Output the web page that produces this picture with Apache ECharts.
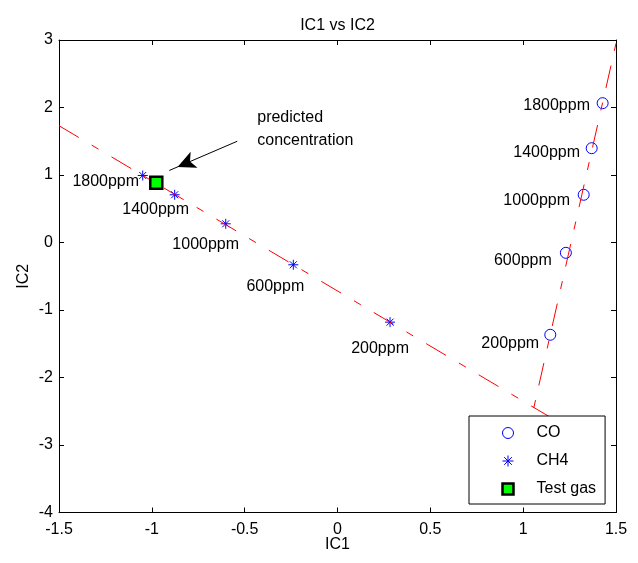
<!DOCTYPE html>
<html>
<head>
<meta charset="utf-8">
<script src="https://cdn.jsdelivr.net/npm/echarts@6/dist/echarts.min.js"></script>
<style>
  html, body { margin: 0; padding: 0; background: #fff; }
  #chart { width: 638px; height: 563px; }
</style>
</head>
<body>
<div id="chart"></div>
<script>
// values, ordered 200ppm -> 1800ppm
const ppmLabels = ["200ppm", "600ppm", "1000ppm", "1400ppm", "1800ppm"];
const coIC1 = [1.146, 1.230, 1.326, 1.369, 1.428];
const coIC2 = [-1.367, -0.153, 0.707, 1.397, 2.064];
const ch4IC1 = [0.283, -0.238, -0.602, -0.877, -1.049];
const ch4IC2 = [-1.18, -0.33, 0.277, 0.707, 0.993];
const testGas = [-0.976, 0.884];

// fitted (dash-dot) lines, end points
const coFitLine = [[1.012, -3.0], [1.5, 2.95]];
const ch4FitLine = [[-1.5, 1.73], [1.3, -2.84]];

// annotation
const noteText = "predicted\nconcentration";
const notePos = [-0.435, 1.684];
const arrowFrom = [-0.540, 1.50];
const arrowTo = [-0.906, 1.067];

// axes
const xRange = [-1.5, 1.5];
const xStep = 0.5;
const yRange = [-4, 3];
const yStep = 1;

// label nudges in px (style only)
const coLabelOffsets = [[-40, 9], [-43, 8], [-47, 6], [-45, 4], [-46, 2]];
const ch4LabelOffsets = [[-10, 26], [-18, 22], [-20, 21], [-19, 15], [-37, 6]];

const FONT = "'Liberation Sans', Arial, Helvetica, sans-serif";
const BLUE = "#0000ff";
const RED = "#ff0000";
const starPath = "path://M5,0L5,10M0,5L10,5M1.5,1.5L8.5,8.5M1.5,8.5L8.5,1.5";
const dashDot = [23, 15, 8, 15];

const pointsWithLabels = (xs, ys, offsets) => xs.map((x, i) => ({
  value: [x, ys[i]],
  name: ppmLabels[i],
  label: { offset: offsets[i] }
}));

const ppmLabel = {
  show: true,
  position: "inside",
  formatter: (p) => p.name,
  color: "#000",
  fontSize: 16,
  fontFamily: FONT
};

const baseAxis = (min, max, interval) => ({
  type: "value",
  min,
  max,
  interval,
  splitLine: { show: false },
  axisLine: { show: true, onZero: false, lineStyle: { color: "#000", width: 1 } },
  axisTick: { show: true, inside: true, length: 5, lineStyle: { color: "#000" } }
});

const option = {
  animation: false,
  backgroundColor: "#fff",
  title: {
    text: "IC1 vs IC2",
    left: 337.5,
    textAlign: "center",
    top: 18,
    padding: 0,
    textStyle: { fontFamily: FONT, fontSize: 16, fontWeight: "normal", color: "#000" }
  },
  grid: { left: 59, right: 22, top: 40, bottom: 50.5, containLabel: false },
  xAxis: [
    {
      ...baseAxis(xRange[0], xRange[1], xStep),
      position: "bottom",
      name: "IC1",
      nameLocation: "middle",
      nameGap: 24,
      nameMoveOverlap: false,
      nameTextStyle: { fontFamily: FONT, fontSize: 16, color: "#000" },
      axisLabel: { margin: 9, fontFamily: FONT, fontSize: 16, color: "#000" }
    },
    {
      ...baseAxis(xRange[0], xRange[1], xStep),
      position: "top",
      axisLabel: { show: false }
    }
  ],
  yAxis: [
    {
      ...baseAxis(yRange[0], yRange[1], yStep),
      position: "left",
      name: "IC2",
      nameLocation: "middle",
      nameGap: 27,
      nameMoveOverlap: false,
      nameTextStyle: { fontFamily: FONT, fontSize: 16, color: "#000" },
      axisLabel: { margin: 6, fontFamily: FONT, fontSize: 16, color: "#000" }
    },
    {
      ...baseAxis(yRange[0], yRange[1], yStep),
      position: "right",
      axisLabel: { show: false }
    }
  ],
  legend: {
    orient: "vertical",
    left: 469,
    top: 416,
    padding: [9, 9, 7, 31],
    itemGap: 12,
    itemWidth: 11,
    itemHeight: 11,
    borderColor: "#000",
    borderWidth: 1,
    borderRadius: 0,
    backgroundColor: "#fff",
    selectedMode: false,
    textStyle: { fontFamily: FONT, fontSize: 16, color: "#000", padding: [0, 0, 0, 18] },
    data: [
      { name: "CO", icon: "circle", itemStyle: { color: "#fff", borderColor: BLUE, borderWidth: 1 } },
      { name: "CH4", icon: starPath, itemStyle: { color: "none", borderColor: BLUE, borderWidth: 1 } },
      { name: "Test gas", icon: "rect", itemStyle: { color: "#00ff00", borderColor: "#000", borderWidth: 2.5 } }
    ]
  },
  series: [
    {
      name: "CO fit",
      type: "line",
      data: coFitLine,
      symbol: "none",
      silent: true,
      lineStyle: { color: RED, width: 1, type: dashDot }
    },
    {
      name: "CH4 fit",
      type: "line",
      data: ch4FitLine,
      symbol: "none",
      silent: true,
      lineStyle: { color: RED, width: 1, type: dashDot }
    },
    {
      name: "CH4",
      type: "scatter",
      data: pointsWithLabels(ch4IC1, ch4IC2, ch4LabelOffsets),
      symbol: starPath,
      symbolSize: 10,
      itemStyle: { color: "none", borderColor: BLUE, borderWidth: 1, opacity: 1 },
      label: ppmLabel,
      silent: true
    },
    {
      name: "CO",
      type: "scatter",
      data: pointsWithLabels(coIC1, coIC2, coLabelOffsets),
      symbol: "circle",
      symbolSize: 11,
      itemStyle: { color: "rgba(255,255,255,0)", borderColor: BLUE, borderWidth: 1, opacity: 1 },
      label: ppmLabel,
      silent: true
    },
    {
      name: "Test gas",
      type: "scatter",
      data: [testGas],
      symbol: "rect",
      symbolSize: 12,
      itemStyle: { color: "#00ff00", borderColor: "#000", borderWidth: 2.5, opacity: 1 },
      silent: true,
      z: 5
    },
    {
      name: "note",
      type: "scatter",
      data: [notePos],
      symbolSize: 1,
      itemStyle: { color: "#fff", opacity: 1 },
      silent: true,
      label: {
        show: true,
        position: "right",
        distance: 0,
        formatter: noteText,
        color: "#000",
        opacity: 1,
        textBorderWidth: 0,
        fontSize: 16,
        lineHeight: 23,
        fontFamily: FONT
      },
      markLine: {
        silent: true,
        animation: false,
        symbol: ["none", "arrow"],
        symbolSize: [13, 18],
        symbolOffset: [0, [0, 9]],
        label: { show: false },
        lineStyle: { color: "#000", width: 1, type: "solid", opacity: 1 },
        data: [[{ coord: arrowFrom }, { coord: arrowTo }]]
      }
    }
  ]
};

echarts.init(document.getElementById("chart"), null, { renderer: "canvas" }).setOption(option);
</script>
</body>
</html>
